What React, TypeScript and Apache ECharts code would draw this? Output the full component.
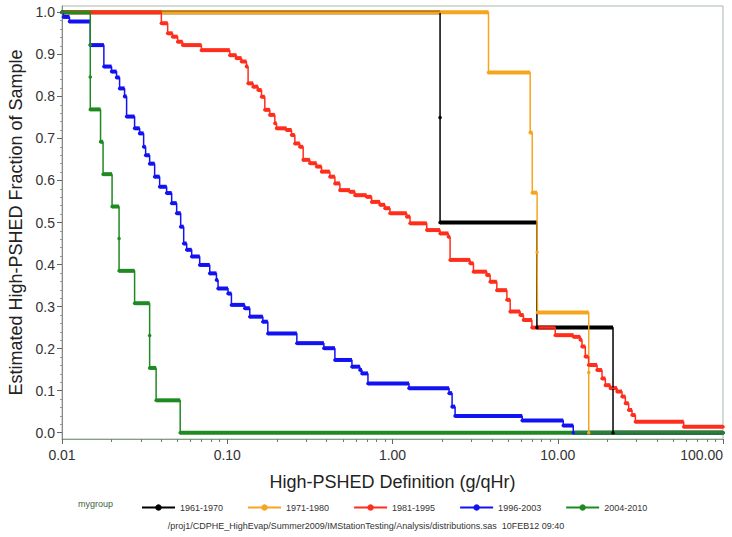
import React, { useEffect, useRef } from "react";
import * as echarts from "echarts";

const groups = ["1961-1970", "1971-1980", "1981-1995", "1996-2003", "2004-2010"];
const colors = ["#000000", "#F7A51E", "#FF2E1C", "#1212F2", "#1F8A22"];

const blackX = [0.01, 1.94, 1.94, 7.48, 21.6, 100];
const blackY = [1, 0.75, 0.5, 0.25, 0, 0];

const orangeX = [0.01, 3.81, 6.81, 7.01, 7.5, 7.54, 15.4, 15.4, 100];
const orangeY = [1, 0.857, 0.714, 0.571, 0.429, 0.286, 0.143, 0, 0];

const redX = [0.01, 0.03992, 0.0436, 0.04673, 0.05012, 0.05373, 0.06976, 0.1036, 0.1137, 0.122, 0.1307, 0.1337, 0.1434, 0.1537, 0.1612, 0.1688, 0.181, 0.1941, 0.1987, 0.2285, 0.2449, 0.2565, 0.275, 0.288, 0.3162, 0.3473, 0.3723, 0.418, 0.4482, 0.4806, 0.5525, 0.5925, 0.6976, 0.7478, 0.84, 0.9007, 0.9656, 1.2196, 1.277, 1.612, 1.941, 2.179, 2.231, 2.95, 3.089, 3.723, 3.898, 4.28, 4.923, 5.154, 5.925, 6.203, 6.976, 9.656, 12.47, 13.69, 14.02, 14.68, 15.37, 17.29, 18.53, 19.41, 20.81, 22.85, 24.49, 25.65, 26.86, 28.16, 29.5, 57.85, 100];
const redY = [1, 0.974, 0.95, 0.942, 0.93, 0.922, 0.91, 0.898, 0.891, 0.883, 0.871, 0.831, 0.823, 0.815, 0.799, 0.768, 0.756, 0.736, 0.724, 0.72, 0.708, 0.688, 0.68, 0.649, 0.641, 0.633, 0.621, 0.609, 0.593, 0.577, 0.573, 0.565, 0.561, 0.549, 0.542, 0.534, 0.522, 0.514, 0.498, 0.482, 0.474, 0.466, 0.411, 0.403, 0.383, 0.375, 0.359, 0.339, 0.316, 0.288, 0.28, 0.268, 0.25, 0.232, 0.228, 0.221, 0.205, 0.181, 0.161, 0.149, 0.129, 0.113, 0.106, 0.098, 0.086, 0.07, 0.054, 0.042, 0.026, 0.014, 0.014];

const blueX = [0.01, 0.01021, 0.0111, 0.01482, 0.01792, 0.01995, 0.02139, 0.02231, 0.02392, 0.0246, 0.0275, 0.0295, 0.03119, 0.03207, 0.03391, 0.03636, 0.03898, 0.04298, 0.04609, 0.04942, 0.05226, 0.0545, 0.05683, 0.06093, 0.06813, 0.07834, 0.08602, 0.08797, 0.1011, 0.106, 0.1277, 0.1369, 0.1642, 0.176, 0.2638, 0.3843, 0.4482, 0.5683, 0.6353, 0.6534, 0.7103, 1.259, 2.2, 2.294, 2.392, 6.093, 10.8, 12.41, 100];
const blueY = [1, 0.989, 0.978, 0.922, 0.871, 0.859, 0.845, 0.819, 0.8, 0.752, 0.724, 0.712, 0.68, 0.66, 0.64, 0.609, 0.585, 0.57, 0.546, 0.522, 0.49, 0.45, 0.435, 0.419, 0.399, 0.379, 0.363, 0.343, 0.331, 0.304, 0.296, 0.276, 0.264, 0.236, 0.213, 0.201, 0.173, 0.157, 0.149, 0.141, 0.117, 0.106, 0.094, 0.062, 0.04, 0.029, 0.017, 0, 0];

const greenX = [0.01, 0.01483, 0.01483, 0.01483, 0.01711, 0.01772, 0.02009, 0.02215, 0.02215, 0.0275, 0.03391, 0.03391, 0.03712, 0.0519, 100];
const greenY = [1, 0.923, 0.846, 0.769, 0.692, 0.615, 0.538, 0.462, 0.385, 0.308, 0.231, 0.154, 0.077, 0, 0];

const seriesX = [blackX, orangeX, redX, blueX, greenX];
const seriesY = [blackY, orangeY, redY, blueY, greenY];

const xMinor = [0.02, 0.03, 0.04, 0.05, 0.06, 0.07, 0.08, 0.09, 0.2, 0.3, 0.4, 0.5, 0.6, 0.7, 0.8, 0.9, 2, 3, 4, 5, 6, 7, 8, 9, 20, 30, 40, 50, 60, 70, 80, 90];
const yMajor = [0, 0.1, 0.2, 0.3, 0.4, 0.5, 0.6, 0.7, 0.8, 0.9, 1.0];
const yMinor = [0.02, 0.04, 0.06, 0.08, 0.12, 0.14, 0.16, 0.18, 0.22, 0.24, 0.26, 0.28, 0.32, 0.34, 0.36, 0.38, 0.42, 0.44, 0.46, 0.48, 0.52, 0.54, 0.56, 0.58, 0.62, 0.64, 0.66, 0.68, 0.72, 0.74, 0.76, 0.78, 0.82, 0.84, 0.86, 0.88, 0.92, 0.94, 0.96, 0.98];

const FONT = "'Liberation Sans', Arial, Helvetica, sans-serif";

export default function App() {
  const ref = useRef<HTMLDivElement>(null);
  useEffect(() => {
    if (!ref.current) return;
    const chart = echarts.init(ref.current, null, { renderer: "svg" });
    const series: any[] = [];
    groups.forEach((name, gi) => {
      const xs = seriesX[gi];
      const ys = seriesY[gi];
      const color = colors[gi];
      series.push({
        type: "line",
        name,
        step: "end",
        data: xs.map((x, i) => [x, ys[i]]),
        symbol: "circle",
        symbolSize: 3.5,
        showSymbol: true,
        lineStyle: { color, width: 1.5 },
        itemStyle: { color },
        xAxisIndex: 0,
        yAxisIndex: 0,
      });
      const segs: number[][] = [];
      for (let i = 0; i < xs.length - 1; i++) {
        if (xs[i + 1] > xs[i]) segs.push([xs[i], xs[i + 1], ys[i]]);
      }
      series.push({
        type: "custom",
        name,
        xAxisIndex: 0,
        yAxisIndex: 0,
        encode: { x: [0, 1], y: 2 },
        data: segs,
        renderItem: (params: any, api: any) => {
          const a = api.coord([api.value(0), api.value(2)]);
          const b = api.coord([api.value(1), api.value(2)]);
          return {
            type: "rect",
            shape: { x: a[0], y: a[1] - 2, width: b[0] - a[0], height: 4 },
            style: { fill: color },
          };
        },
      });
    });

    chart.setOption({
      animation: false,
      backgroundColor: "#ffffff",
      textStyle: { fontFamily: FONT },
      grid: {
        left: 62,
        right: 9,
        top: 6,
        bottom: 98,
        show: true,
        borderColor: "#a9b8a9",
        borderWidth: 1,
        backgroundColor: "transparent",
        outerBoundsMode: "none",
      },
      legend: {
        data: groups,
        left: 136,
        top: 498,
        itemWidth: 33,
        itemHeight: 8,
        itemGap: 24,
        textStyle: { fontSize: 9, color: "#333", fontFamily: FONT },
      },
      graphic: [
        {
          type: "text",
          left: 78,
          top: 499,
          style: { text: "mygroup", fontSize: 9, fill: "#3d5f3f", fontFamily: FONT },
        },
        {
          type: "text",
          left: "center",
          top: 521,
          style: {
            text: "/proj1/CDPHE_HighEvap/Summer2009/IMStationTesting/Analysis/distributions.sas  10FEB12 09:40",
            fontSize: 9,
            fill: "#333",
            fontFamily: FONT,
          },
        },
      ],
      xAxis: [
        {
          type: "log",
          logBase: 10,
          min: 0.01,
          max: 100,
          name: "High-PSHED Definition (g/qHr)",
          nameLocation: "middle",
          nameGap: 34,
          nameTextStyle: { fontSize: 18, color: "#222", fontFamily: FONT },
          axisLine: { show: true, onZero: false, lineStyle: { color: "#7fa27f", width: 1 } },
          axisTick: { show: true, length: 5, lineStyle: { color: "#666" } },
          axisLabel: {
            fontSize: 14,
            color: "#333",
            margin: 9,
            fontFamily: FONT,
            alignMaxLabel: "right",
            formatter: (v: number) => Number(v).toFixed(2),
          },
          splitLine: { show: false },
          minorTick: { show: false },
        },
        {
          type: "value",
          min: -2,
          max: 2,
          position: "bottom",
          axisLine: { show: false, onZero: false },
          axisTick: { show: true, length: 3, customValues: xMinor.map((v) => Math.log10(v)), lineStyle: { color: "#777" } },
          axisLabel: { show: false },
          splitLine: { show: false },
        },
      ],
      yAxis: [
        {
          type: "value",
          min: -0.015,
          max: 1.015,
          name: "Estimated High-PSHED Fraction of Sample",
          nameLocation: "middle",
          nameGap: 27,
          nameTextStyle: { fontSize: 18, color: "#222", fontFamily: FONT },
          axisLine: { show: true, onZero: false, lineStyle: { color: "#888", width: 1 } },
          axisTick: { show: true, length: 5, customValues: yMajor, lineStyle: { color: "#666" } },
          axisLabel: {
            customValues: yMajor,
            fontSize: 14,
            color: "#333",
            margin: 7,
            fontFamily: FONT,
            formatter: (v: number) => Number(v).toFixed(1),
          },
          splitLine: { show: false },
        },
        {
          type: "value",
          min: -0.015,
          max: 1.015,
          position: "left",
          axisLine: { show: false, onZero: false },
          axisTick: { show: true, length: 2, customValues: yMinor, lineStyle: { color: "#999" } },
          axisLabel: { show: false },
          splitLine: { show: false },
        },
      ],
      series,
    });
    return () => chart.dispose();
  }, []);
  return <div ref={ref} style={{ width: 732, height: 537, position: "absolute", left: 0, top: 0 }} />;
}
